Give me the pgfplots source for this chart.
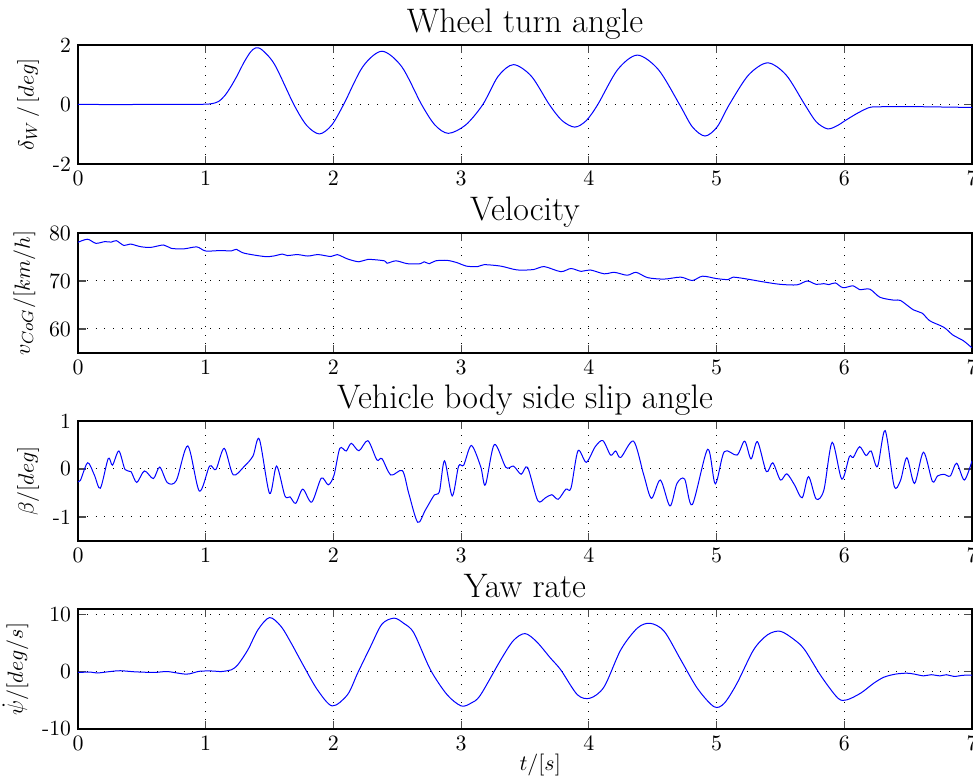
\documentclass[border=0pt]{standalone}
\usepackage{pgfplots}
\pgfplotsset{compat=1.18}

% vehicle test run: steering input and vehicle response over time
\pgfplotsset{
  runpanel/.style={
    scale only axis,
    width=447pt,
    xmin=0, xmax=7,
    xtick={0,1,...,7},
    grid=major,
    major grid style={black, loosely dotted, line width=0.5pt},
    tick align=inside,
    tick pos=both,
    major tick length=4pt,
    tick style={black!70, line width=0.6pt},
    axis line style={black, line width=0.6pt},
    tick label style={font=\fontsize{10.8}{13}\selectfont},
    label style={font=\fontsize{10.8}{13}\selectfont},
    title style={font=\fontsize{17}{20}\selectfont, anchor=base, at={(0.5,1)}, yshift=0pt},
    every axis plot/.append style={blue, line width=0.5pt, smooth, no marks},
    clip=true,
  }
}

\begin{document}
\begin{tikzpicture}
\useasboundingbox (0,0) rectangle (486.5pt,390.5pt);

% ---------------- wheel turn angle ----------------
\begin{axis}[runpanel, at={(39pt,308.5pt)}, anchor=south west, height=59.5pt,
  ymin=-2, ymax=2, ytick={-2,0,2}, yticklabels={-2,0,2},
  title={Wheel turn angle}, ylabel={$\delta_W\,/\,[deg]$}]
\addplot coordinates {
(0,0) (0.5,0) (0.9,0.005) (1.0,0.01) (1.05,0.03) (1.1,0.1) (1.15,0.3)
(1.2,0.62) (1.25,1.0) (1.3,1.42) (1.35,1.76) (1.39,1.9) (1.44,1.84)
(1.54,1.34) (1.69,0) (1.79,-0.70) (1.89,-0.99) (1.985,-0.70) (2.08,0)
(2.23,1.27) (2.38,1.79) (2.535,1.27) (2.69,0) (2.795,-0.69) (2.90,-0.97)
(3.035,-0.69) (3.17,0) (3.29,0.95) (3.41,1.34) (3.55,0.95) (3.69,0)
(3.79,-0.54) (3.89,-0.76) (3.98,-0.54) (4.07,0) (4.225,1.17) (4.38,1.66)
(4.545,1.17) (4.71,0) (4.81,-0.75) (4.91,-1.06) (5.005,-0.75) (5.10,0)
(5.25,0.99) (5.40,1.40) (5.545,0.99) (5.69,0) (5.78,-0.58) (5.87,-0.82)
(5.95,-0.70) (6.0,-0.56) (6.1,-0.30) (6.19,-0.11) (6.25,-0.08) (6.5,-0.07)
(7,-0.10)
};
\end{axis}

% ---------------- velocity ----------------
\begin{axis}[runpanel, at={(39pt,214pt)}, anchor=south west, height=60pt,
  ymin=55, ymax=80, ytick={60,70,80},
  title={Velocity}, ylabel={$v_{CoG}/[km/h]$}]
\addplot coordinates {
(0,78.06) (0.075,78.7) (0.14,77.85) (0.21,78.2) (0.26,78.1) (0.3,78.4)
(0.36,77.4) (0.41,77.7) (0.49,77.15) (0.57,77.0) (0.67,77.5) (0.73,76.8)
(0.83,76.7) (0.93,77.1) (1.0,76.25) (1.12,76.35) (1.2,76.25) (1.24,76.6)
(1.3,75.8) (1.46,75.1) (1.53,75.2) (1.6,75.6) (1.64,75.3) (1.72,75.5)
(1.8,75.2) (1.88,75.5) (1.98,75.1) (2.03,75.5) (2.11,74.6) (2.2,74.0)
(2.27,74.5) (2.4,74.2) (2.42,73.7) (2.49,74.2) (2.58,73.6) (2.68,73.6)
(2.71,74.0) (2.75,73.6) (2.8,74.2) (2.89,74.3) (2.97,73.8) (3.04,73.1)
(3.13,73.0) (3.18,73.4) (3.31,73.1) (3.44,72.3) (3.57,72.4) (3.65,73.0)
(3.78,71.95) (3.86,72.6) (3.94,72.0) (4.01,72.3) (4.12,71.5) (4.2,71.8)
(4.3,71.2) (4.37,71.8) (4.46,70.7) (4.59,70.4) (4.72,70.8) (4.81,70.1)
(4.89,71.0) (5.0,70.5) (5.09,70.3) (5.13,70.8) (5.24,70.4) (5.37,69.8)
(5.5,69.3) (5.63,69.2) (5.71,70.0) (5.78,69.3) (5.84,69.45) (5.88,69.25)
(5.93,69.6) (5.99,68.6) (6.07,69.0) (6.12,68.2) (6.2,68.3) (6.28,66.6)
(6.39,66.0) (6.44,65.95) (6.54,64.0) (6.61,63.3) (6.67,61.7) (6.78,60.35)
(6.85,58.75) (6.93,57.6) (6.99,56.3) (7.0,56.1)
};
\end{axis}

% ---------------- side slip angle ----------------
\begin{axis}[runpanel, at={(39pt,120pt)}, anchor=south west, height=60pt,
  ymin=-1.5, ymax=1, ytick={-1,0,1}, yticklabels={-1,0,1},
  title={Vehicle body side slip angle}, ylabel={$\beta/[deg]$}]
\addplot coordinates {
(0,-0.26) (0.02,-0.23) (0.076,0.13) (0.128,-0.125) (0.175,-0.40) (0.237,0.22)
(0.27,0.08) (0.32,0.375) (0.368,-0.01) (0.415,-0.055) (0.46,-0.28) (0.52,-0.04)
(0.59,-0.2) (0.64,0.04) (0.70,-0.285) (0.77,-0.24) (0.86,0.48) (0.95,-0.46)
(1.03,0.06) (1.08,-0.01) (1.145,0.43) (1.215,-0.12) (1.30,0.05) (1.37,0.27)
(1.42,0.62) (1.50,-0.51) (1.555,0.06) (1.62,-0.56) (1.66,-0.58) (1.705,-0.715)
(1.76,-0.42) (1.83,-0.69) (1.905,-0.19) (1.96,-0.33) (2.005,-0.125) (2.05,0.43)
(2.10,0.375) (2.14,0.535) (2.20,0.38) (2.27,0.59) (2.34,0.19) (2.38,0.215)
(2.45,-0.125) (2.54,-0.035) (2.59,-0.51) (2.66,-1.11) (2.72,-0.855) (2.79,-0.54)
(2.83,-0.47) (2.87,0.17) (2.93,-0.56) (2.98,0.06) (3.02,0.08) (3.08,0.49)
(3.153,0.05) (3.19,-0.33) (3.26,0.51) (3.35,0.035) (3.41,0.06) (3.47,-0.11)
(3.52,0.035) (3.60,-0.66) (3.66,-0.6) (3.71,-0.535) (3.76,-0.63) (3.82,-0.42)
(3.86,-0.40) (3.915,0.38) (3.98,0.14) (4.05,0.465) (4.11,0.59) (4.17,0.29)
(4.21,0.375) (4.25,0.24) (4.35,0.58) (4.43,-0.125) (4.49,-0.61) (4.56,-0.23)
(4.635,-0.77) (4.69,-0.3) (4.75,-0.21) (4.81,-0.74) (4.93,0.41) (4.99,-0.31)
(5.06,0.36) (5.16,0.29) (5.22,0.58) (5.27,0.21) (5.32,0.57) (5.39,-0.055)
(5.44,0.13) (5.50,-0.23) (5.55,-0.10) (5.61,-0.33) (5.67,-0.60) (5.72,-0.16)
(5.78,-0.625) (5.84,-0.44) (5.905,0.555) (5.98,-0.21) (6.04,0.26) (6.07,0.24)
(6.12,0.465) (6.17,0.28) (6.21,0.375) (6.26,0.05) (6.32,0.80) (6.39,-0.35)
(6.44,-0.24) (6.49,0.235) (6.55,-0.3) (6.62,0.35) (6.69,-0.26) (6.73,-0.145)
(6.78,-0.11) (6.83,-0.145) (6.88,0.12) (6.94,-0.23) (7.0,0.17)
};
\end{axis}

% ---------------- yaw rate ----------------
\begin{axis}[runpanel, at={(39pt,26pt)}, anchor=south west, height=60pt,
  ymin=-10, ymax=11, ytick={-10,0,10}, yticklabels={-10,0,10},
  title={Yaw rate}, ylabel={$\dot{\psi}/[deg/s]$},
  xlabel={$t/[s]$},
  xlabel style={at={(axis description cs:0.517,0)}, anchor=center, yshift=-18pt}]
\addplot coordinates {
(0,-0.1) (0.1,-0.05) (0.15,-0.2) (0.25,0.05) (0.33,0.2) (0.45,0.0) (0.6,-0.1)
(0.7,0.05) (0.85,-0.4) (0.95,0.1) (1.05,0.15) (1.12,0.05) (1.17,0.2)
(1.20,0.35) (1.25,1.2) (1.33,3.86) (1.41,7.4) (1.50,9.5) (1.59,7.95)
(1.67,5.0) (1.77,0.9) (1.875,-3.15) (1.99,-5.96) (2.11,-4.0) (2.19,-0.2)
(2.29,4.4) (2.38,8.36) (2.475,9.4) (2.55,8.5) (2.63,6.8) (2.76,0.35)
(2.89,-4.0) (3.0,-5.96) (3.075,-5.5) (3.15,-4.1) (3.31,2.1) (3.41,5.5)
(3.50,6.7) (3.59,5.3) (3.70,2.4) (3.78,0.35) (3.91,-4.0) (4.01,-4.6)
(4.12,-2.6) (4.25,3.86) (4.38,7.66) (4.48,8.5) (4.59,7.1) (4.72,2.1)
(4.85,-2.9) (4.98,-6.1) (5.06,-5.5) (5.16,-2.0) (5.29,3.86) (5.40,6.5)
(5.50,7.1) (5.61,5.6) (5.69,3.86) (5.82,-0.8) (5.95,-4.6) (6.02,-4.9)
(6.13,-3.7) (6.23,-2.0) (6.31,-0.94) (6.40,-0.4) (6.49,-0.23) (6.55,-0.4)
(6.62,-0.7) (6.68,-0.5) (6.75,-0.7) (6.8,-0.5) (6.86,-0.8) (6.93,-0.6)
(7.0,-0.58)
};
\end{axis}
\end{tikzpicture}
\end{document}
